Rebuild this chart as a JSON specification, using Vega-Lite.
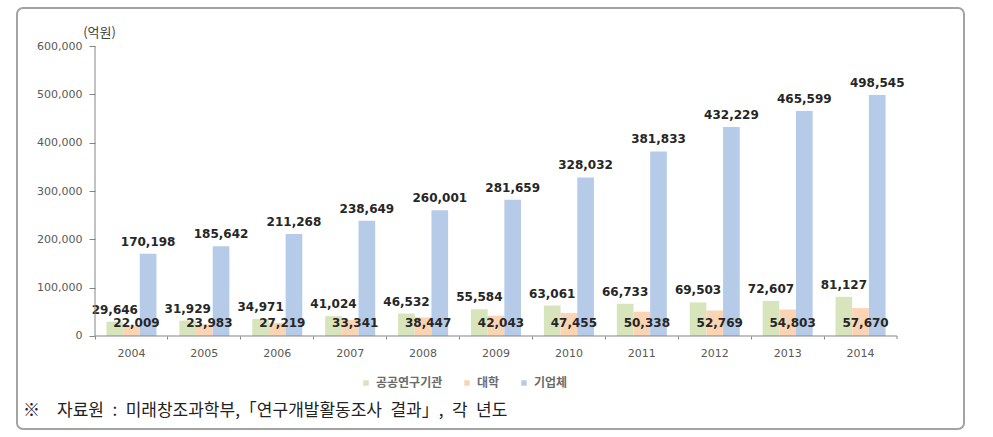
{
  "$schema": "https://vega.github.io/schema/vega-lite/v6.json",
  "autosize": "none",
  "width": 947,
  "height": 421,
  "padding": {"left": 17, "top": 8, "right": 29, "bottom": 8},
  "background": "white",
  "config": {
    "view": {"stroke": "#a3a3a3", "strokeWidth": 2, "cornerRadius": 6},
    "font": "DejaVu Sans"
  },
  "title": {
    "text": "※\u2002\u2002자료원\u2002:\u2002미래창조과학부,「연구개발활동조사\u2002결과」,\u2002각\u2002년도",
    "orient": "bottom",
    "anchor": "start",
    "frame": "group",
    "offset": -26,
    "dx": 6,
    "font": "Noto Sans CJK KR",
    "fontSize": 17,
    "fontWeight": "normal",
    "color": "#222222"
  },
  "data": {
    "values": [
      {"year": "2004", "series": "공공연구기관", "value": 29646},
      {"year": "2004", "series": "대학", "value": 22009},
      {"year": "2004", "series": "기업체", "value": 170198},
      {"year": "2005", "series": "공공연구기관", "value": 31929},
      {"year": "2005", "series": "대학", "value": 23983},
      {"year": "2005", "series": "기업체", "value": 185642},
      {"year": "2006", "series": "공공연구기관", "value": 34971},
      {"year": "2006", "series": "대학", "value": 27219},
      {"year": "2006", "series": "기업체", "value": 211268},
      {"year": "2007", "series": "공공연구기관", "value": 41024},
      {"year": "2007", "series": "대학", "value": 33341},
      {"year": "2007", "series": "기업체", "value": 238649},
      {"year": "2008", "series": "공공연구기관", "value": 46532},
      {"year": "2008", "series": "대학", "value": 38447},
      {"year": "2008", "series": "기업체", "value": 260001},
      {"year": "2009", "series": "공공연구기관", "value": 55584},
      {"year": "2009", "series": "대학", "value": 42043},
      {"year": "2009", "series": "기업체", "value": 281659},
      {"year": "2010", "series": "공공연구기관", "value": 63061},
      {"year": "2010", "series": "대학", "value": 47455},
      {"year": "2010", "series": "기업체", "value": 328032},
      {"year": "2011", "series": "공공연구기관", "value": 66733},
      {"year": "2011", "series": "대학", "value": 50338},
      {"year": "2011", "series": "기업체", "value": 381833},
      {"year": "2012", "series": "공공연구기관", "value": 69503},
      {"year": "2012", "series": "대학", "value": 52769},
      {"year": "2012", "series": "기업체", "value": 432229},
      {"year": "2013", "series": "공공연구기관", "value": 72607},
      {"year": "2013", "series": "대학", "value": 54803},
      {"year": "2013", "series": "기업체", "value": 465599},
      {"year": "2014", "series": "공공연구기관", "value": 81127},
      {"year": "2014", "series": "대학", "value": 57670},
      {"year": "2014", "series": "기업체", "value": 498545}
    ]
  },
  "layer": [
    {
      "mark": {"type": "bar"},
      "encoding": {
        "x": {
          "field": "year", "type": "nominal",
          "scale": {"paddingInner": 0, "paddingOuter": 0.9944, "align": 0.538},
          "axis": {
            "orient": "bottom", "offset": -93, "title": null, "domain": false,
            "bandPosition": 0, "tickSize": 3, "tickColor": "#868686",
            "labelAngle": 0, "labelPadding": 8, "labelFont": "DejaVu Sans",
            "labelFontSize": 11, "labelColor": "#595959", "labelBound": false
          }
        },
        "xOffset": {
          "field": "series", "type": "nominal",
          "sort": ["공공연구기관", "대학", "기업체"],
          "scale": {"paddingInner": 0, "paddingOuter": 0.687}
        },
        "y": {
          "field": "value", "type": "quantitative",
          "scale": {"domain": [-192414, 678621], "nice": false, "zero": false},
          "axis": {
            "orient": "left", "offset": -78, "domain": false, "grid": false,
            "values": [0, 100000, 200000, 300000, 400000, 500000, 600000],
            "labelExpr": "format(datum.value, ',')", "tickSize": 6, "tickColor": "#868686",
            "labelPadding": 7, "labelFont": "DejaVu Sans", "labelFontSize": 11,
            "labelColor": "#595959",
            "title": "(억원)", "titleAngle": 0, "titleX": 4, "titleY": 24,
            "titleAlign": "center", "titleBaseline": "middle",
            "titleFont": "Noto Sans CJK KR", "titleFontSize": 13,
            "titleFontWeight": "normal", "titleColor": "#404040"
          }
        },
        "color": {
          "field": "series", "type": "nominal",
          "sort": ["공공연구기관", "대학", "기업체"],
          "scale": {"domain": ["공공연구기관", "대학", "기업체"], "range": ["#d7e4bc", "#fbd4b4", "#b6cbe7"]},
          "legend": {
            "title": null, "orient": "none", "direction": "horizontal",
            "legendX": 343, "legendY": 369, "symbolType": "square",
            "symbolSize": 30, "symbolStrokeWidth": 0, "columnPadding": 18,
            "labelOffset": 4, "labelFont": "Noto Sans CJK KR",
            "labelFontSize": 12, "labelFontWeight": "bold", "labelColor": "#6b6b6b"
          }
        }
      }
    },
    {
      "transform": [{"filter": "datum.series !== '대학'"}],
      "mark": {"type": "text", "baseline": "alphabetic", "dy": -8, "font": "DejaVu Sans", "fontSize": 12, "fontWeight": "bold", "color": "#262626"},
      "encoding": {
        "x": {"field": "year", "type": "nominal"},
        "xOffset": {"field": "series", "type": "nominal", "sort": ["공공연구기관", "대학", "기업체"]},
        "y": {"field": "value", "type": "quantitative"},
        "text": {"field": "value", "type": "quantitative", "format": ","}
      }
    },
    {
      "transform": [{"filter": "datum.series === '대학'"}],
      "mark": {"type": "text", "baseline": "alphabetic", "dy": -9, "dx": 5, "font": "DejaVu Sans", "fontSize": 12, "fontWeight": "bold", "color": "#262626"},
      "encoding": {
        "x": {"field": "year", "type": "nominal"},
        "xOffset": {"field": "series", "type": "nominal", "sort": ["공공연구기관", "대학", "기업체"]},
        "y": {"datum": 0},
        "text": {"field": "value", "type": "quantitative", "format": ","}
      }
    },
    {
      "data": {"values": [{"a": 1}]},
      "mark": {"type": "rule", "color": "#868686", "strokeWidth": 1},
      "encoding": {
        "x": {"datum": "2004", "bandPosition": 0},
        "y": {"datum": 0},
        "y2": {"datum": 600000}
      }
    },
    {
      "data": {"values": [{"a": 1}]},
      "mark": {"type": "rule", "color": "#868686", "strokeWidth": 1},
      "encoding": {
        "x": {"datum": "2004", "bandPosition": 0},
        "x2": {"datum": "2014", "bandPosition": 1},
        "y": {"datum": 0}
      }
    },
    {
      "data": {"values": [{"a": 1}]},
      "mark": {"type": "rule", "color": "#868686", "strokeWidth": 1},
      "encoding": {
        "x": {"datum": "2014", "bandPosition": 1},
        "y": {"datum": 0},
        "y2": {"datum": -6200}
      }
    }
  ]
}
